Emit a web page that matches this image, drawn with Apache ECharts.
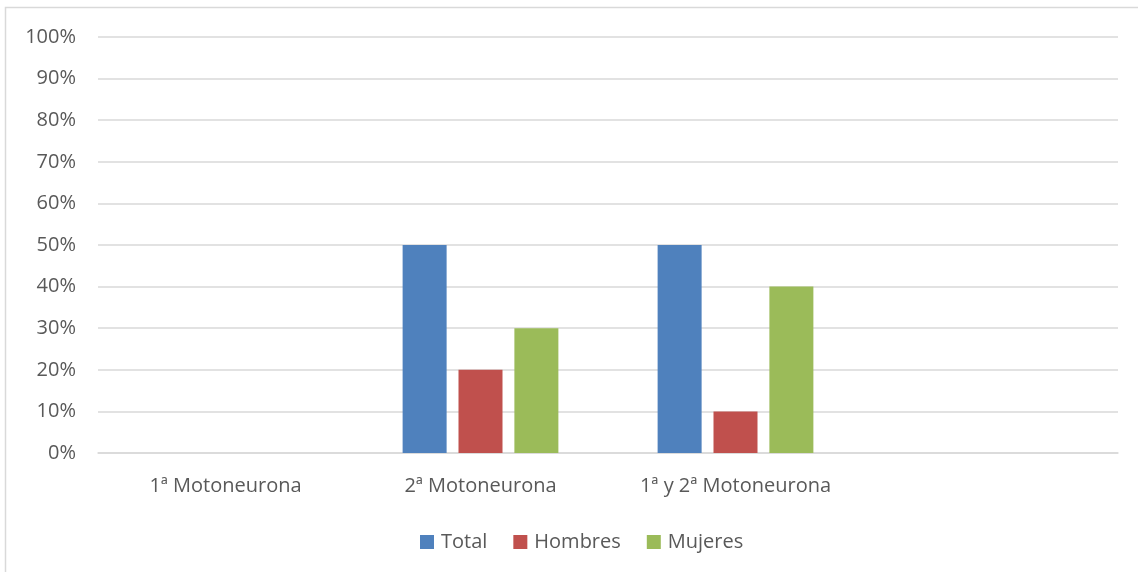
<!DOCTYPE html>
<html>
<head>
<meta charset="utf-8">
<script src="https://cdn.jsdelivr.net/npm/echarts@6/dist/echarts.min.js"></script>
<style>
  html, body { margin: 0; padding: 0; background: #fff; }
  #chart { width: 1138px; height: 572px; }
</style>
</head>
<body>
<div id="chart"></div>
<script>
// Afectación por tipo de motoneurona (porcentaje)
const categories = ['1ª Motoneurona', '2ª Motoneurona', '1ª y 2ª Motoneurona', ''];
const totalValues = [0, 50, 50, null];
const hombresValues = [0, 20, 10, null];
const mujeresValues = [0, 30, 40, null];
const seriesNames = ['Total', 'Hombres', 'Mujeres'];
const seriesColors = ['#4F81BD', '#C0504D', '#9BBB59'];

const chart = echarts.init(document.getElementById('chart'), null, { renderer: 'canvas' });

const textColor = '#595959';
const fontFamily = '"Open Sans", "Noto Sans", sans-serif';
const fontSize = 20;
const gridColor = '#D9D9D9';

const barSeries = [totalValues, hombresValues, mujeresValues].map((vals, i) => ({
  name: seriesNames[i],
  type: 'bar',
  data: vals,
  barWidth: 44,
  barGap: '27%',
  itemStyle: { color: seriesColors[i] },
  emphasis: { disabled: true }
}));

chart.setOption({
  animation: false,
  backgroundColor: '#fff',
  graphic: [{
    type: 'rect',
    shape: { x: 5.5, y: 7.5, width: 1140, height: 580 },
    style: { fill: 'none', stroke: gridColor, lineWidth: 1.5 },
    silent: true,
    z: -1
  }],
  grid: { left: 98, right: 20, top: 37, bottom: 119 },
  legend: {
    data: seriesNames,
    left: 415,
    top: 527,
    itemWidth: 14,
    itemHeight: 14,
    itemGap: 26,
    icon: 'rect',
    textStyle: { color: textColor, fontFamily, fontSize, padding: [0, 0, 0, 2] },
    selectedMode: false
  },
  xAxis: {
    type: 'category',
    data: categories,
    axisLine: { show: true, lineStyle: { color: gridColor, width: 1.5 } },
    axisTick: { show: false },
    axisLabel: { color: textColor, fontFamily, fontSize, margin: 23, interval: 0 }
  },
  yAxis: {
    type: 'value',
    min: 0,
    max: 100,
    interval: 10,
    axisLine: { show: false },
    axisTick: { show: false },
    axisLabel: { color: textColor, fontFamily, fontSize, margin: 22, formatter: '{value}%' },
    splitLine: { lineStyle: { color: gridColor, width: 1.5 } }
  },
  series: barSeries
});
</script>
</body>
</html>
